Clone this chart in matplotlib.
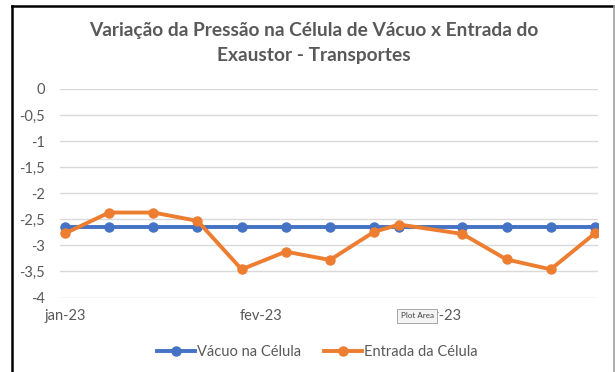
import matplotlib
matplotlib.use("Agg")
from matplotlib import pyplot as plt
import matplotlib.dates as mdates
import numpy as np

# weekly readings
dates = ['2023-01-01', '2023-01-08', '2023-01-15', '2023-01-22', '2023-01-29',
         '2023-02-05', '2023-02-12', '2023-02-19', '2023-02-23', '2023-03-05',
         '2023-03-12', '2023-03-19', '2023-03-26']
vacuo_celula = [-2.65] * 13
entrada_celula = [-2.77, -2.37, -2.37, -2.53, -3.46, -3.12, -3.28,
                  -2.74, -2.60, -2.78, -3.27, -3.46, -2.77]

month_ticks = ['2023-01-01', '2023-02-01', '2023-03-01']
month_labels = ['jan-23', 'fev-23', 'mar-23']
y_ticks = [0, -0.5, -1, -1.5, -2, -2.5, -3, -3.5, -4]

BLUE = '#4472C4'
ORANGE = '#ED7D31'
GRAY = '#595959'

plt.rcParams['font.family'] = ['Lato', 'DejaVu Sans']

x = mdates.date2num(np.array(dates, dtype='datetime64[D]'))
xt = mdates.date2num(np.array(month_ticks, dtype='datetime64[D]'))

fig = plt.figure(figsize=(6.15, 3.72), dpi=100)
ax = fig.add_axes([60 / 615, 74.5 / 372, 538 / 615, 208.5 / 372])

ax.plot(x, vacuo_celula, color=BLUE, lw=2.8, marker='o', ms=6.5,
        label='Vácuo na Célula', zorder=3)
ax.plot(x, entrada_celula, color=ORANGE, lw=2.8, marker='o', ms=6.5,
        label='Entrada da Célula', zorder=4)

ax.set_xlim(x[0] - 0.8, x[-1] + 0.5)
ax.set_ylim(-4, 0)
ax.set_yticks(y_ticks)
ax.set_yticklabels([('%g' % v).replace('.', ',') for v in y_ticks])
ax.set_xticks(xt)
ax.set_xticklabels(month_labels)
ax.grid(axis='y', color='#D9D9D9', lw=1)
ax.set_axisbelow(True)
for s in ax.spines.values():
    s.set_visible(False)
ax.tick_params(axis='both', length=0, colors=GRAY, labelsize=10.5)
ax.tick_params(axis='y', pad=11)
ax.tick_params(axis='x', pad=8)

fig.text(0.51, 0.918, 'Variação da Pressão na Célula de Vácuo x Entrada do',
         ha='center', va='center', fontsize=13.8, fontweight='bold', color=GRAY)
fig.text(0.51, 0.85, 'Exaustor - Transportes',
         ha='center', va='center', fontsize=13.8, fontweight='bold', color=GRAY)

# hover tooltip sitting over the march label
fig.text(417 / 615, 1 - 316 / 372, 'Plot Area', ha='center', va='center',
         fontsize=5.8, color='#404040', zorder=10,
         bbox=dict(boxstyle='square,pad=0.4', fc='#F4F4F4', ec='#9A9A9A', lw=0.6))

fig.legend(loc='center', bbox_to_anchor=(0.516, 1 - 352 / 372), ncol=2,
           frameon=False, fontsize=10.5, handlelength=2.6, columnspacing=1.6,
           handletextpad=0.1, labelcolor=GRAY)

# chart frame
fig.add_artist(plt.Line2D([12 / 615, 12 / 615], [0, 1 - 6 / 372],
                          color='black', lw=1.8, transform=fig.transFigure))
fig.add_artist(plt.Line2D([12 / 615, 614 / 615], [1 - 6 / 372, 1 - 6 / 372],
                          color='black', lw=1.8, transform=fig.transFigure))
fig.add_artist(plt.Line2D([614 / 615, 614 / 615], [0, 1 - 6 / 372],
                          color='#A0A0A0', lw=1.2, transform=fig.transFigure))

fig.savefig('out.png', dpi=100)
